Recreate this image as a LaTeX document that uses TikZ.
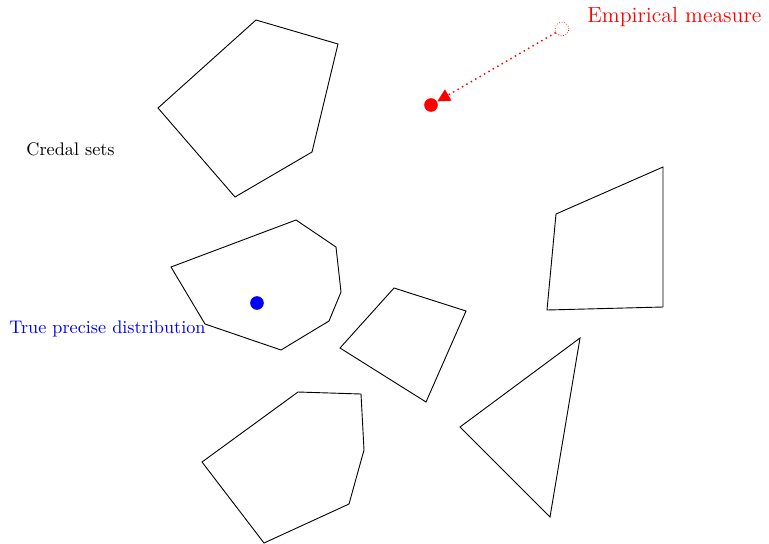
\documentclass[tikz,border=0pt]{standalone}
\usepackage{tikz}
\usetikzlibrary{arrows.meta, positioning}

\begin{document}
\begin{tikzpicture}[x=0.0193cm, y=-0.0193cm,
	credal/.style={draw=black, line width=0.5pt, line join=miter},
	point/.style={circle, inner sep=0pt, minimum size=7.5pt}]
	\useasboundingbox (0,0) rectangle (769,543);
	% conjuntos credales
	\draw[credal] (256,20) -- (338,44) -- (312,152) -- (235,197) -- (158,108) -- cycle;
	\draw[credal] (296,220) -- (336,247) -- (341,292) -- (329,321) -- (281,350) -- (205,324) -- (171,267) -- cycle;
	\draw[credal] (394,288) -- (466,311) -- (426,402) -- (340,348) -- cycle;
	\draw[credal] (556,214) -- (663,167) -- (663,307) -- (547,310) -- cycle;
	\draw[credal] (580,338) -- (550,517) -- (460,427) -- cycle;
	\draw[credal] (298,392) -- (361,394) -- (364,450) -- (349,504) -- (264,543) -- (202,462) -- cycle;
	% puntos
	\node[point, fill=blue] (truedist) at (257,303) {};
	\node[point, fill=red] (empmeas) at (431,105) {};
	\node[point, draw=red, densely dotted] (empghost) at (562,29) {};
	\draw[red, dotted, thick, -{Triangle[length=7pt, width=7pt]}] (empghost) -- (empmeas);
	% etiquetas
	\node[text=red, font=\large, anchor=west] (emplabel) at (581,17) {Empirical measure};
	\node[anchor=west] (credlabel) at (20,149) {Credal sets};
	\node[text=blue, anchor=west] (truelabel) at (3,329) {True precise distribution};
\end{tikzpicture}
\end{document}
